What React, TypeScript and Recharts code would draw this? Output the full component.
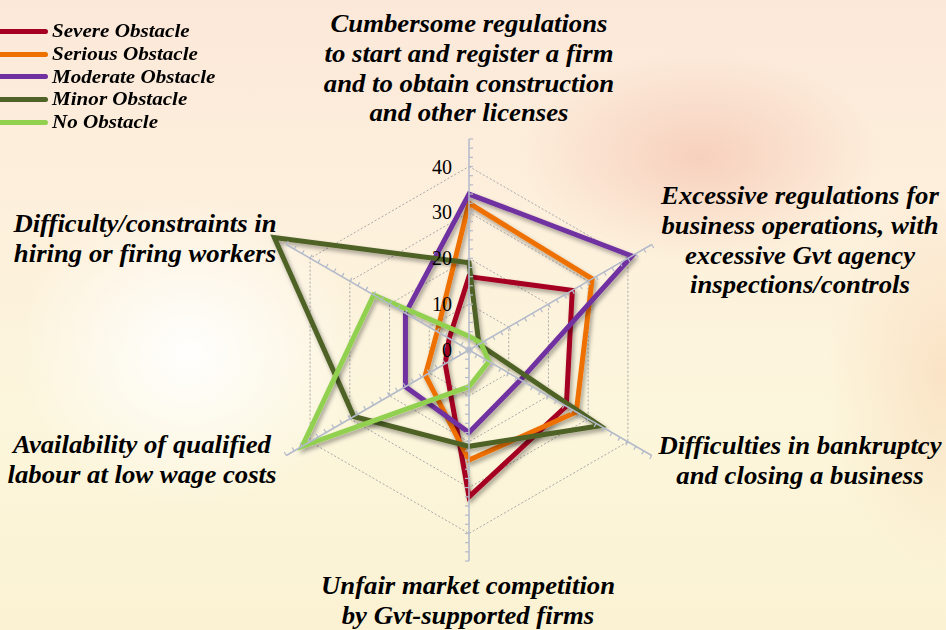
import React from "react";
import {
  RadarChart,
  Radar,
  PolarGrid,
  PolarAngleAxis,
  PolarRadiusAxis,
} from "recharts";

// Categorías (una línea de texto por fila de la etiqueta)
const categoryLines: string[][] = [
  [
    "Cumbersome regulations",
    "to start and register a firm",
    "and to obtain construction",
    "and other licenses",
  ],
  [
    "Excessive regulations for",
    "business operations, with",
    "excessive Gvt agency",
    "inspections/controls",
  ],
  ["Difficulties in bankruptcy", "and closing a business"],
  ["Unfair market competition", "by Gvt-supported firms"],
  ["Availability of qualified", "labour at low wage costs"],
  ["Difficulty/constraints in", "hiring or firing workers"],
];
const categories = categoryLines.map((l) => l.join(" "));

// Valores por serie
const severe = [16, 26, 24.5, 32, 6, 5];
const serious = [32, 31, 27, 24, 11, 8];
const moderate = [34, 41, 13, 18, 16, 16];
const minor = [19, 2.5, 33, 21, 29, 49];
const noObstacle = [3, 3, 5, 8, 42, 24];

const seriesNames = [
  "Severe Obstacle",
  "Serious Obstacle",
  "Moderate Obstacle",
  "Minor Obstacle",
  "No Obstacle",
];
const seriesKeys = ["severe", "serious", "moderate", "minor", "none"];
const seriesValues = [severe, serious, moderate, minor, noObstacle];

const radiusTicks = [0, 10, 20, 30, 40];
const minorTicks = [0, 2, 4, 6, 8, 10, 12, 14, 16, 18, 20, 22, 24, 26, 28, 30, 32, 34, 36, 38, 40, 42, 44, 46];
const axisDomain: [number, number] = [0, 46];

// Estilos
const colors = ["#A50021", "#EE7000", "#7030A0", "#4F6228", "#92D050"];
const spokeAngles = [90, 30, -30, -90, -150, 150];
const serif = '"Liberation Serif", "Times New Roman", serif';

const CX = 469;
const CY = 350;
const OUTER = 211;

// Posición de las etiquetas de categoría (centro, primera línea base)
const labelLayout = [
  { x: 469, y: 32 },
  { x: 800, y: 204 },
  { x: 800, y: 454 },
  { x: 468, y: 594 },
  { x: 142, y: 453 },
  { x: 145, y: 232 },
];
const labelLineHeight = 29.8;
const labelStretch = 1.07;

const data = categories.map((c, i) => {
  const row: any = { category: c };
  seriesKeys.forEach((k, s) => {
    row[k] = seriesValues[s][i];
  });
  return row;
});

const AngleTick = (props: any) => {
  const i = categories.indexOf(props.payload?.value);
  if (i < 0) return null;
  const pos = labelLayout[i];
  return (
    <g transform={`translate(${pos.x},0) scale(${labelStretch},1) translate(${-pos.x},0)`}>
      <text
        x={pos.x}
        y={pos.y}
        textAnchor="middle"
        fill="#000"
        style={{ fontFamily: serif, fontWeight: "bold", fontStyle: "italic", fontSize: 25 }}
      >
        {categoryLines[i].map((line, k) => (
          <tspan key={k} x={pos.x} dy={k === 0 ? 0 : labelLineHeight}>
            {line}
          </tspan>
        ))}
      </text>
    </g>
  );
};

const MinorTick = (props: any) => {
  const { x, y, transform } = props;
  return (
    <g transform={transform}>
      <line x1={x} y1={y} x2={x + 4} y2={y} stroke="#B3BACA" strokeWidth={1.2} />
    </g>
  );
};

const ValueTick = (props: any) => {
  const { x, y, payload } = props;
  return (
    <text
      x={x - 17}
      y={y}
      textAnchor="end"
      dominantBaseline="central"
      fill="#000"
      style={{ fontFamily: serif, fontSize: 20 }}
    >
      {payload.value}
    </text>
  );
};

const LegendBox = () => (
  <div style={{ position: "absolute", left: 0, top: 20 }}>
    {seriesNames.map((name, i) => (
      <div key={name} style={{ display: "flex", alignItems: "center", height: 22.7 }}>
        <div
          style={{
            width: 48,
            height: 5,
            background: colors[i],
            borderRadius: "0 3px 3px 0",
          }}
        />
        <span
          style={{
            marginLeft: 4,
            fontFamily: serif,
            fontWeight: "bold",
            fontStyle: "italic",
            fontSize: 19,
            color: "#000",
            whiteSpace: "nowrap",
            display: "inline-block",
            transform: "scaleX(1.11)",
            transformOrigin: "left center",
          }}
        >
          {name}
        </span>
      </div>
    ))}
  </div>
);

export default function App() {
  return (
    <div
      style={{
        position: "relative",
        width: 946,
        height: 630,
        overflow: "hidden",
        background: [
          "radial-gradient(ellipse 230px 210px at 20% 56%, rgba(255,255,255,0.95), rgba(255,255,255,0) 75%)",
          "radial-gradient(ellipse 240px 140px at 74% 25%, rgba(238,165,145,0.4), rgba(238,165,145,0) 75%)",
          "radial-gradient(ellipse 160px 260px at 100% 60%, rgba(248,205,170,0.45), rgba(248,205,170,0) 75%)",
          "linear-gradient(180deg, #FCE8D9 0%, #FDF0DC 35%, #FCF6DC 65%, #FBF2D3 100%)",
        ].join(", "),
      }}
    >
      <style>{"body{margin:0}"}</style>
      <svg width={0} height={0} style={{ position: "absolute" }}>
        <defs>
          <filter id="lineShadow" x="-20%" y="-20%" width="140%" height="140%">
            <feDropShadow dx={2} dy={3} stdDeviation={2} floodColor="#000" floodOpacity={0.35} />
          </filter>
        </defs>
      </svg>
      <RadarChart
        width={946}
        height={630}
        data={data}
        cx={CX}
        cy={CY}
        outerRadius={OUTER}
        margin={{ top: 0, right: 0, bottom: 0, left: 0 }}
        style={{ position: "absolute", left: 0, top: 0 }}
      >
        <PolarGrid
          gridType="polygon"
          radialLines={false}
          stroke="#A9A9A9"
          strokeDasharray="2 2"
        />
        <PolarAngleAxis
          dataKey="category"
          axisLine={false}
          tickLine={false}
          tick={<AngleTick />}
        />
        {spokeAngles.map((a, i) => (
          <PolarRadiusAxis
            key={`spoke-${i}`}
            radiusAxisId={`spoke-${i}`}
            angle={a}
            type="number"
            domain={axisDomain}
            allowDataOverflow
            ticks={minorTicks}
            axisLine={{ stroke: "#B3BACA", strokeWidth: 1.5 }}
            tick={<MinorTick />}
          />
        ))}
        {seriesKeys.map((k, i) => (
          <Radar
            key={k}
            name={seriesNames[i]}
            dataKey={k}
            stroke={colors[i]}
            strokeWidth={5}
            strokeLinejoin="miter"
            fill="none"
            fillOpacity={0}
            dot={false}
            filter="url(#lineShadow)"
            isAnimationActive={false}
          />
        ))}
        <PolarRadiusAxis
          angle={90}
          type="number"
          domain={axisDomain}
          allowDataOverflow
          ticks={radiusTicks}
          axisLine={false}
          tick={<ValueTick />}
        />
      </RadarChart>
      <LegendBox />
    </div>
  );
}
